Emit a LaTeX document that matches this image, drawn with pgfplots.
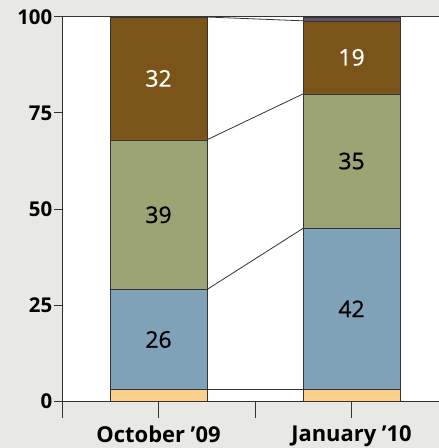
\documentclass[border=0pt]{standalone}
\usepackage{pgfplots}
\pgfplotsset{compat=1.18}
\usepackage{fontspec}
\setmainfont{Open Sans}
\newfontfamily\medfont{Open Sans}[FakeBold=0.8]
\definecolor{bg}{HTML}{E8E8E4}
\definecolor{cbrown}{HTML}{7B541A}
\definecolor{cgreen}{HTML}{9DA473}
\definecolor{cblue}{HTML}{7FA2B8}
\definecolor{cyel}{HTML}{FCD08C}
\definecolor{cpurp}{HTML}{5E516E}
\definecolor{edge}{HTML}{333333}
\begin{document}
\begin{tikzpicture}
\fill[bg] (-62bp,-47bp) rectangle (377bp,401bp);
\pgfplotsset{common/.style={width=377bp,height=384bp,scale only axis,
  xmin=0,xmax=1.953,ymin=0,ymax=100}}
\begin{axis}[common, ybar stacked, bar width=0.5,
  axis background/.style={fill=white},
  axis x line*=box, axis y line*=left,
  axis line style={edge, line width=1pt},
  tick align=outside, xtick pos=bottom, ytick pos=left,
  ytick={0,25,50,75,100},
  xtick={0,1}, xticklabels={,},
  xtick style={edge, line width=1pt, /pgfplots/major tick length=17bp},
  ytick style={edge, line width=1pt, /pgfplots/major tick length=8bp},
  extra x ticks={0.5,1.5},
  extra x tick labels={October ’09, January ’10},
  extra x tick style={/pgfplots/major tick length=0pt, xticklabel style={yshift=-21bp, font=\bfseries\fontsize{22}{24}\selectfont}},
  /pgf/number format/assume math mode=true,
  tick label style={font=\bfseries\fontsize{20.5}{23}\selectfont, text=black},
  yticklabel style={xshift=-2bp},
]
\addplot[fill=cyel, draw=edge] coordinates {(0.5,3) (1.5,3)};
\addplot[fill=cblue, draw=edge] coordinates {(0.5,26) (1.5,42)};
\addplot[fill=cgreen, draw=edge] coordinates {(0.5,39) (1.5,35)};
\addplot[fill=cbrown, draw=edge] coordinates {(0.5,32) (1.5,19)};
\addplot[fill=cpurp, draw=edge] coordinates {(0.5,0) (1.5,1)};
\end{axis}
\begin{axis}[common, hide axis, point meta=explicit symbolic,
  every node near coord/.append style={anchor=center, font=\medfont\fontsize{23}{25}\selectfont}]
\addplot[edge, line width=0.8pt] coordinates {(0.75,3) (1.25,3)};
\addplot[edge, line width=0.8pt] coordinates {(0.75,29) (1.25,45)};
\addplot[edge, line width=0.8pt] coordinates {(0.75,68) (1.25,80)};
\addplot[edge, line width=0.8pt] coordinates {(0.75,100) (1.25,99)};
\addplot[draw=none, mark=none, nodes near coords, text=black]
  coordinates {(0.5,16) [26] (1.5,24) [42] (0.5,48.5) [39] (1.5,62.5) [35]};
\addplot[draw=none, mark=none, nodes near coords, every node near coord/.append style={text=white}]
  coordinates {(0.5,84) [32] (1.5,89.5) [19]};
\end{axis}
\pgfresetboundingbox
\path (-62bp,-47bp) rectangle (377bp,401bp);
\end{tikzpicture}
\end{document}
